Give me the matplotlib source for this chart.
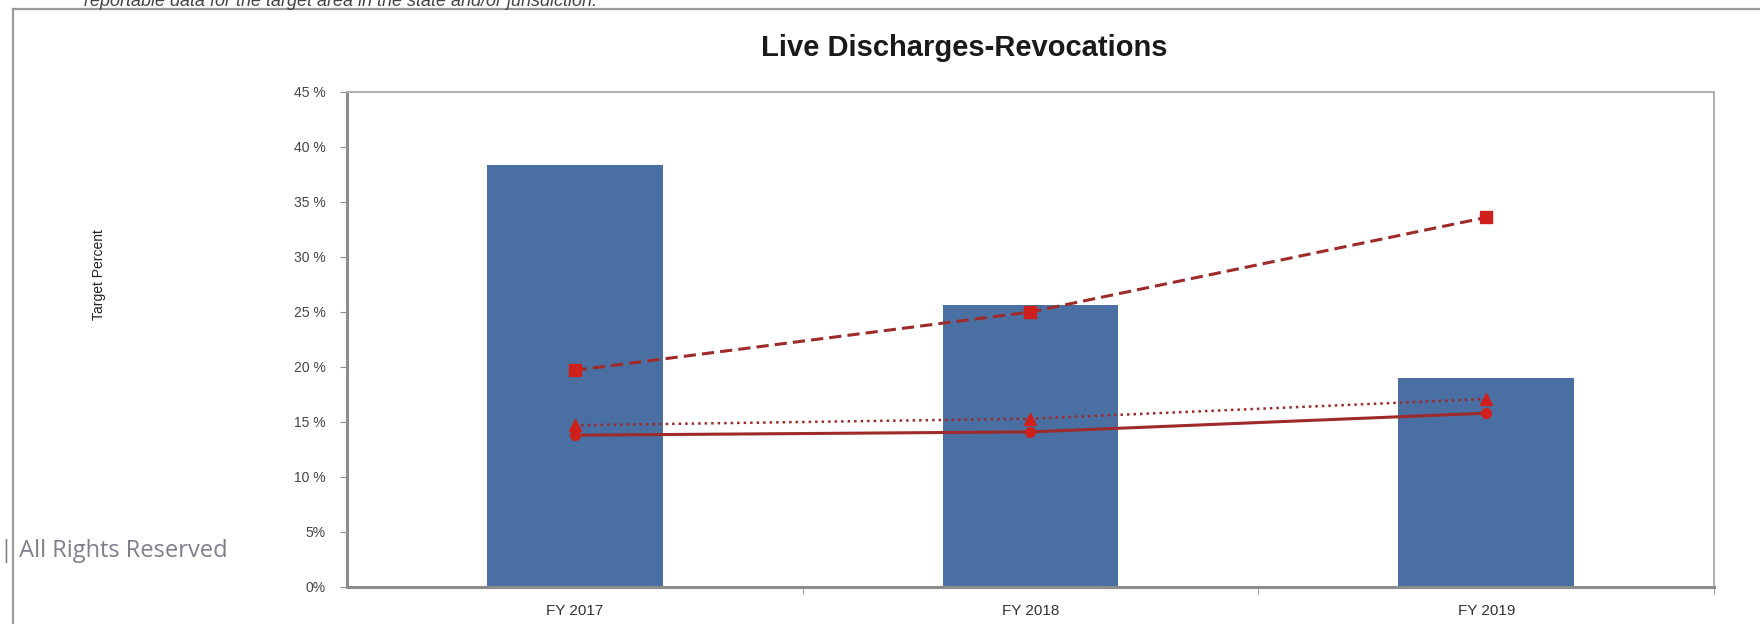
import matplotlib.pyplot as plt
from matplotlib.lines import Line2D

# Data
years = ['FY 2017', 'FY 2018', 'FY 2019']
actual = [38.4, 25.6, 19.0]          # bars
upper_target = [19.7, 25.0, 33.6]    # dashed line
mid_target = [14.7, 15.3, 17.1]      # dotted line
base_target = [13.8, 14.1, 15.8]     # solid line
y_ticks = [0, 5, 10, 15, 20, 25, 30, 35, 40, 45]
y_tick_labels = ['0%', '5%', '10 %', '15 %', '20 %', '25 %', '30 %', '35 %', '40 %', '45 %']

bar_color = '#4a6fa3'
line_color = '#9e2a2a'
marker_color = '#d0201c'
axis_gray = '#8c8c8c'

fig = plt.figure(figsize=(17.6, 6.24), dpi=100)
fig.patch.set_facecolor('white')

# page elements around the chart (screenshot framing)
fig.add_artist(Line2D([0.0075, 1.0], [0.985, 0.985], color='#9a9a9a', lw=1.6))
fig.add_artist(Line2D([0.0075, 0.0075], [0.0, 0.985], color='#9a9a9a', lw=1.6))
fig.text(0.048, 0.998, 'reportable data for the target area in the state and/or jurisdiction.',
         fontsize=13, style='italic', color='#444444', va='center', ha='left',
         family='Liberation Sans')
fig.text(0.0, 0.117, '| All Rights Reserved', fontsize=17, color='#7d7f8c',
         va='center', ha='left', family='Open Sans')

ax = fig.add_axes([0.197, 0.0593, 0.777, 0.7933])
x = list(range(len(years)))

ax.bar(x, actual, width=0.386, color=bar_color, zorder=2)

ax.plot(x, upper_target, color=line_color, lw=2.2, linestyle=(0, (4, 2)),
        marker='s', markersize=9, markerfacecolor=marker_color,
        markeredgecolor=marker_color, zorder=3)
ax.plot(x, mid_target, color=line_color, lw=1.8, linestyle=(0, (1, 1.6)),
        marker='^', markersize=8, markerfacecolor=marker_color,
        markeredgecolor=marker_color, zorder=3)
ax.plot(x, base_target, color=line_color, lw=2.2, linestyle='-',
        marker='o', markersize=7, markerfacecolor=marker_color,
        markeredgecolor=marker_color, zorder=3)

ax.set_xlim(-0.5, 2.5)
ax.set_ylim(0, 45)
ax.set_yticks(y_ticks)
ax.set_yticklabels(y_tick_labels, fontsize=10, color='#444444',
                   family='Liberation Sans')
ax.set_xticks(x)
ax.set_xticklabels(years, fontsize=11, color='#333333', family='Liberation Sans')
ax.set_xticks([0.5, 1.5, 2.5], minor=True)
ax.tick_params(axis='x', which='major', length=0, pad=12)
ax.tick_params(axis='x', which='minor', length=5, direction='out', color=axis_gray)
ax.tick_params(axis='y', length=5, direction='out', color=axis_gray, pad=10)

for side in ['left', 'bottom']:
    ax.spines[side].set_color(axis_gray)
    ax.spines[side].set_linewidth(2.2)
for side in ['top', 'right']:
    ax.spines[side].set_color('#b0b0b0')
    ax.spines[side].set_linewidth(1.4)

fig.text(0.548, 0.923, 'Live Discharges-Revocations', fontsize=21, fontweight='bold',
         ha='center', va='center', family='Liberation Sans', color='#1a1a1a')
fig.text(0.056, 0.56, 'Target Percent', fontsize=10, rotation=90, ha='center',
         va='center', family='Liberation Sans', color='#222222')

fig.savefig('out.png', dpi=100, facecolor='white')
